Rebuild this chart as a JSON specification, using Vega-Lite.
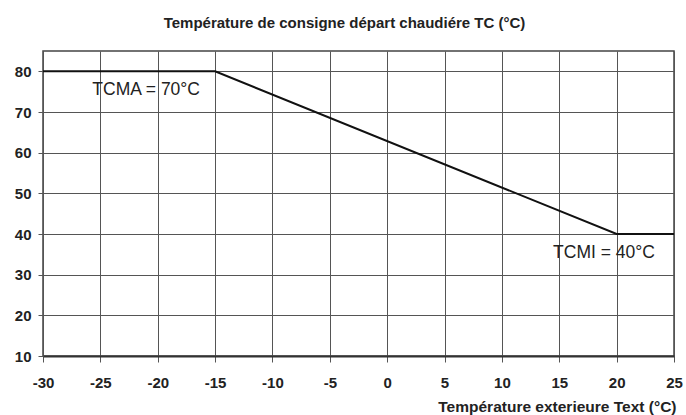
{
  "$schema": "https://vega.github.io/schema/vega-lite/v6.json",
  "autosize": "none",
  "width": 631,
  "height": 305,
  "padding": {"left": 43, "top": 51, "right": 12, "bottom": 59},
  "background": "white",
  "title": {
    "text": "Température de consigne départ chaudiére TC (°C)",
    "font": "Liberation Sans",
    "fontSize": 15,
    "fontWeight": "bold",
    "color": "#222222",
    "anchor": "middle",
    "dx": -14,
    "offset": 20
  },
  "config": {
    "view": {"stroke": "#444444", "strokeWidth": 1.5},
    "axis": {
      "labelFont": "Liberation Sans",
      "labelFontSize": 15,
      "labelFontWeight": "bold",
      "labelColor": "#222222",
      "gridColor": "#555555",
      "gridOpacity": 1,
      "gridWidth": 1,
      "tickColor": "#555555",
      "domain": false
    }
  },
  "datasets": {
    "curve": [
      {"text_ext": -30, "tc": 80},
      {"text_ext": -15, "tc": 80},
      {"text_ext": 20, "tc": 40},
      {"text_ext": 25, "tc": 40}
    ],
    "notes": [
      {"text_ext": -25.7, "tc": 74.3, "label": "TCMA = 70°C"},
      {"text_ext": 14.46, "tc": 34.0, "label": "TCMI = 40°C"}
    ]
  },
  "layer": [
    {
      "data": {"name": "curve"},
      "mark": {"type": "line", "color": "#111111", "strokeWidth": 2},
      "encoding": {
        "x": {
          "field": "text_ext",
          "type": "quantitative",
          "scale": {"domain": [-30, 25], "nice": false},
          "axis": {
            "values": [-30, -25, -20, -15, -10, -5, 0, 5, 10, 15, 20, 25],
            "labelExpr": "datum.value + ''",
            "tickSize": 6,
            "labelPadding": 13,
            "labelFlush": false,
            "domain": true,
            "domainColor": "#333333",
            "domainWidth": 2,
            "title": "Température exterieure Text (°C)",
            "titleFont": "Liberation Sans",
            "titleFontSize": 15.5,
            "titleFontWeight": "bold",
            "titleColor": "#222222",
            "titleAnchor": "end",
            "titleAlign": "right",
            "titleBaseline": "alphabetic",
            "titleX": 633,
            "titleY": 55
          }
        },
        "y": {
          "field": "tc",
          "type": "quantitative",
          "scale": {"domain": [10, 85], "nice": false, "zero": false},
          "axis": {
            "values": [10, 20, 30, 40, 50, 60, 70, 80],
            "labelExpr": "datum.value + ''",
            "tickSize": 5,
            "labelPadding": 7,
            "title": null
          }
        }
      }
    },
    {
      "data": {"name": "notes"},
      "mark": {
        "type": "text",
        "align": "left",
        "baseline": "alphabetic",
        "font": "Liberation Sans",
        "fontSize": 17.5,
        "color": "#222222"
      },
      "encoding": {
        "x": {"field": "text_ext", "type": "quantitative"},
        "y": {"field": "tc", "type": "quantitative"},
        "text": {"field": "label"}
      }
    }
  ]
}
